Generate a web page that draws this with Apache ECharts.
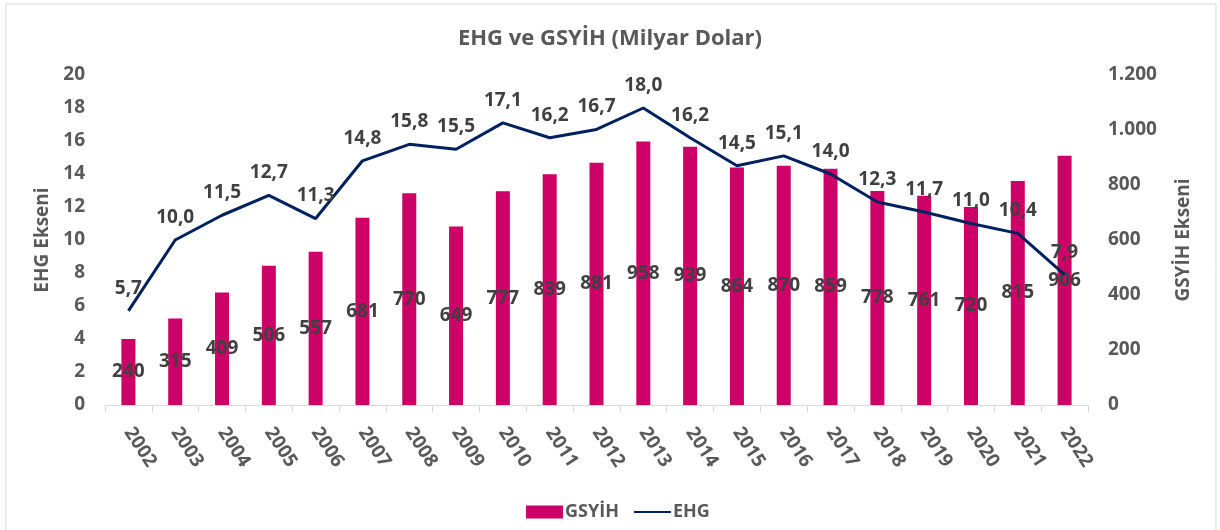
<!DOCTYPE html>
<html>
<head>
<meta charset="utf-8">
<script src="https://cdn.jsdelivr.net/npm/echarts@6/dist/echarts.min.js"></script>
<style>
  html, body { margin: 0; padding: 0; background: #fff; }
  #chart { width: 1220px; height: 530px; }
</style>
</head>
<body>
<div id="chart"></div>
<script>
// yıllar
var years = ['2002', '2003', '2004', '2005', '2006', '2007', '2008', '2009', '2010', '2011', '2012',
    '2013', '2014', '2015', '2016', '2017', '2018', '2019', '2020', '2021', '2022'];
// GSYİH (milyar dolar) - sağ eksen
var gsyih = [240, 315, 409, 506, 557, 681, 770, 649, 777, 839, 881,
    958, 939, 864, 870, 859, 778, 761, 720, 815, 906];
// EHG - sol eksen
var ehg = [5.7, 10.0, 11.5, 12.7, 11.3, 14.8, 15.8, 15.5, 17.1, 16.2, 16.7,
    18.0, 16.2, 14.5, 15.1, 14.0, 12.3, 11.7, 11.0, 10.4, 7.9];

var textGray = '#595959';
var labelGray = '#404040';
var font = '"Open Sans", "Noto Sans", sans-serif';

var myChart = echarts.init(document.getElementById('chart'));

var option = {
    backgroundColor: '#fff',
    textStyle: { fontFamily: font },
    title: {
        text: 'EHG ve GSYİH (Milyar Dolar)',
        left: 'center',
        top: 23,
        textStyle: { fontFamily: font, fontSize: 22, fontWeight: 'bold', color: textGray }
    },
    graphic: [{
        type: 'rect',
        shape: { x: 6, y: 4, width: 1210, height: 540 },
        style: { fill: 'none', stroke: '#d9d9d9', lineWidth: 1 },
        silent: true
    }],
    legend: {
        left: 521,
        top: 498,
        itemGap: 14,
        itemWidth: 37,
        itemHeight: 13,
        textStyle: { fontFamily: font, fontSize: 18, fontWeight: 'bold', color: textGray, padding: [0, 0, 0, -3] },
        data: [
            { name: 'GSYİH', icon: 'rect' },
            { name: 'EHG', itemStyle: { opacity: 0 } }
        ]
    },
    grid: {
        left: 105,
        right: 132,
        top: 75,
        bottom: 125
    },
    xAxis: {
        type: 'category',
        data: years,
        axisLine: { lineStyle: { color: '#d9d9d9', width: 1 } },
        axisTick: { show: true, length: 7, lineStyle: { color: '#d9d9d9' } },
        axisLabel: {
            rotate: -57,
            margin: 24,
            fontFamily: font,
            fontSize: 19,
            fontWeight: 'bold',
            color: textGray
        }
    },
    yAxis: [{
        type: 'value',
        min: 0,
        max: 20,
        interval: 2,
        name: 'EHG Ekseni',
        nameLocation: 'middle',
        nameRotate: 90,
        nameGap: 52,
        nameTextStyle: { fontFamily: font, fontSize: 19, fontWeight: 'bold', color: textGray },
        axisLine: { show: false },
        axisTick: { show: false },
        splitLine: { show: false },
        axisLabel: { margin: 20, fontFamily: font, fontSize: 19, fontWeight: 'bold', color: textGray }
    }, {
        type: 'value',
        min: 0,
        max: 1200,
        interval: 200,
        name: 'GSYİH Ekseni',
        nameLocation: 'middle',
        nameRotate: 90,
        nameGap: 86,
        nameTextStyle: { fontFamily: font, fontSize: 19, fontWeight: 'bold', color: textGray },
        axisLine: { show: false },
        axisTick: { show: false },
        splitLine: { show: false },
        axisLabel: {
            margin: 20,
            fontFamily: font,
            fontSize: 19,
            fontWeight: 'bold',
            color: textGray,
            formatter: function (v) {
                return String(v).replace(/\B(?=(\d{3})+(?!\d))/g, '.');
            }
        }
    }],
    series: [{
        name: 'GSYİH',
        type: 'bar',
        yAxisIndex: 1,
        data: gsyih,
        barWidth: 14,
        itemStyle: { color: '#cc0066' },
        label: {
            show: true,
            position: 'inside',
            fontFamily: font,
            fontSize: 19,
            fontWeight: 'bold',
            color: labelGray
        },
        z: 2
    }, {
        name: 'EHG',
        type: 'line',
        yAxisIndex: 0,
        data: ehg,
        symbol: 'circle',
        symbolSize: 0,
        showSymbol: true,
        lineStyle: { color: '#002060', width: 3 },
        itemStyle: { color: '#002060' },
        label: {
            show: true,
            position: 'top',
            distance: 13,
            fontFamily: font,
            fontSize: 19,
            fontWeight: 'bold',
            color: labelGray,
            formatter: function (p) {
                return p.value.toFixed(1).replace('.', ',');
            }
        },
        z: 3
    }]
};

myChart.setOption(option);
</script>
</body>
</html>
